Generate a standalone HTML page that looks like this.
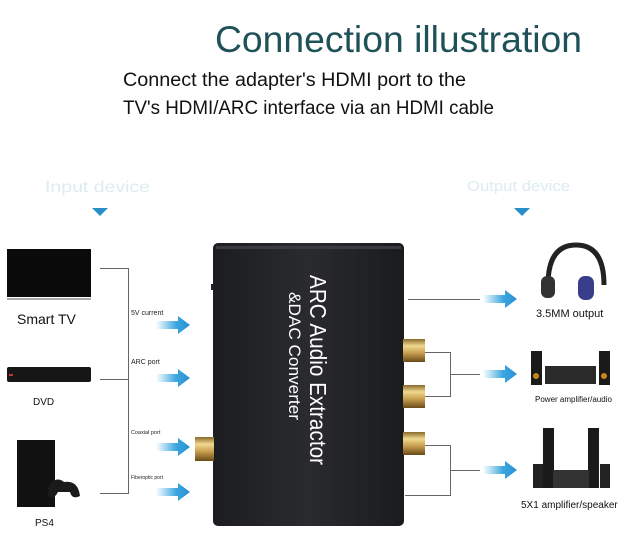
<!DOCTYPE html>
<html><head><meta charset="utf-8"><style>
html,body{margin:0;padding:0;background:#fff;}
svg{display:block;font-family:"Liberation Sans",sans-serif;}
</style></head><body>
<svg width="640" height="537" viewBox="0 0 640 537" xmlns="http://www.w3.org/2000/svg">
<defs>
<linearGradient id="arr" x1="0" x2="1" y1="0" y2="0"><stop offset="0" stop-color="#3aa6e0" stop-opacity="0"/><stop offset="0.6" stop-color="#3aa6e0"/><stop offset="1" stop-color="#2a8fd0"/></linearGradient>
<linearGradient id="box" x1="0" x2="1" y1="0" y2="0"><stop offset="0" stop-color="#1c1d20"/><stop offset="0.5" stop-color="#2a2b2f"/><stop offset="1" stop-color="#1a1b1e"/></linearGradient>
<linearGradient id="gold" x1="0" x2="0" y1="0" y2="1"><stop offset="0" stop-color="#8a6a2a"/><stop offset="0.3" stop-color="#f0d890"/><stop offset="0.6" stop-color="#c9a050"/><stop offset="1" stop-color="#6a4a18"/></linearGradient>
<g id="a"><path d="M0,-4 L22,-4 L22,-9 L34,0 L22,9 L22,4 L0,4 Z" fill="url(#arr)"/></g>
</defs>
<text x="215" y="52" font-size="37" fill="#1f5158" textLength="367" lengthAdjust="spacingAndGlyphs">Connection illustration</text>
<text x="123" y="86" font-size="19" fill="#111" textLength="343" lengthAdjust="spacingAndGlyphs">Connect the adapter's HDMI port to the</text>
<text x="123" y="114" font-size="19" fill="#111" textLength="371" lengthAdjust="spacingAndGlyphs">TV's HDMI/ARC interface via an HDMI cable</text>
<text x="45" y="192" font-size="16" fill="#dcecf0" textLength="105" lengthAdjust="spacingAndGlyphs">Input device</text>
<path d="M92,208 L108,208 L100,216 Z" fill="#2a8fc8"/>
<text x="467" y="191" font-size="15" fill="#dcecf0" textLength="103" lengthAdjust="spacingAndGlyphs">Output device</text>
<path d="M514,208 L530,208 L522,216 Z" fill="#2a8fc8"/>
<!-- left lines -->
<g stroke="#666" stroke-width="1" fill="none">
<path d="M100,268.5 H128.5 V493.5 H100"/><path d="M100,379.5 H128.5"/>
<path d="M408,299.5 H480"/>
<path d="M425,352.5 H450.5 V396.5 H425 M450,374.5 H480"/>
<path d="M425,445.5 H450.5 V495.5 H405 M450,470.5 H480"/>
</g>
<g font-size="7" fill="#222">
<text x="131" y="315">5V current</text><text x="131" y="364">ARC port</text>
<text x="131" y="434" font-size="5.5">Coaxial port</text><text x="131" y="479" font-size="5">Fiberoptic port</text>
</g>
<use href="#a" x="156" y="325"/><use href="#a" x="156" y="378"/><use href="#a" x="156" y="447"/><use href="#a" x="156" y="492"/>
<use href="#a" x="483" y="299"/><use href="#a" x="483" y="374"/><use href="#a" x="483" y="470"/>
<!-- device -->
<rect x="213" y="243" width="191" height="283" rx="5" fill="url(#box)"/>
<rect x="216" y="246" width="185" height="3" fill="#3a3b40"/>
<rect x="211" y="284" width="3" height="6" fill="#222"/>
<rect x="195" y="437" width="19" height="24" fill="url(#gold)"/>
<rect x="403" y="339" width="22" height="23" fill="url(#gold)"/>
<rect x="403" y="385" width="22" height="23" fill="url(#gold)"/>
<rect x="403" y="432" width="22" height="23" fill="url(#gold)"/>
<text transform="translate(310,275) rotate(90)" font-size="23" fill="#fff" textLength="190" lengthAdjust="spacingAndGlyphs">ARC Audio Extractor</text>
<text transform="translate(289,292) rotate(90)" font-size="17" fill="#fff" textLength="128" lengthAdjust="spacingAndGlyphs">&amp;DAC Converter</text>
<!-- TV -->
<rect x="7" y="249" width="84" height="48" fill="#0a0a0a"/><path d="M7,299 L91,299" stroke="#555"/>
<text x="17" y="324" font-size="14" fill="#111">Smart TV</text>
<!-- DVD -->
<rect x="7" y="367" width="84" height="15" rx="2" fill="#161616"/><rect x="9" y="374" width="4" height="2" fill="#c33"/>
<text x="33" y="405" font-size="10" fill="#111">DVD</text>
<!-- PS4 -->
<rect x="17" y="440" width="38" height="67" fill="#111"/><path d="M52,482 q6,-5 12,0 q14,-2 16,14 q-8,4 -10,-4 h-12 q-4,8 -10,4 q0,-12 4,-14z" fill="#1a1a1a"/>
<text x="35" y="526" font-size="10" fill="#111">PS4</text>
<!-- headphones -->
<path d="M548,285 q0,-40 28,-40 q28,0 28,40" fill="none" stroke="#222" stroke-width="5"/>
<rect x="541" y="276" width="14" height="22" rx="6" fill="#333"/><rect x="578" y="276" width="16" height="24" rx="7" fill="#3a3d8a"/>
<text x="536" y="317" font-size="11" fill="#111">3.5MM output</text>
<!-- hifi -->
<rect x="531" y="351" width="11" height="34" fill="#1a1a1a"/><circle cx="536" cy="376" r="3" fill="#c8881a"/>
<rect x="599" y="351" width="11" height="34" fill="#1a1a1a"/><circle cx="604" cy="376" r="3" fill="#c8881a"/>
<rect x="545" y="366" width="51" height="18" fill="#2a2a2a"/>
<text x="535" y="402" font-size="8" fill="#111">Power amplifier/audio</text>
<!-- 5.1 -->
<rect x="543" y="428" width="11" height="60" fill="#1a1a1a"/><rect x="588" y="428" width="11" height="60" fill="#1a1a1a"/>
<rect x="533" y="464" width="10" height="24" fill="#222"/><rect x="600" y="464" width="10" height="24" fill="#222"/>
<rect x="553" y="470" width="36" height="18" fill="#333"/>
<text x="521" y="508" font-size="10" fill="#111">5X1 amplifier/speaker</text>
</svg>
</body></html>
